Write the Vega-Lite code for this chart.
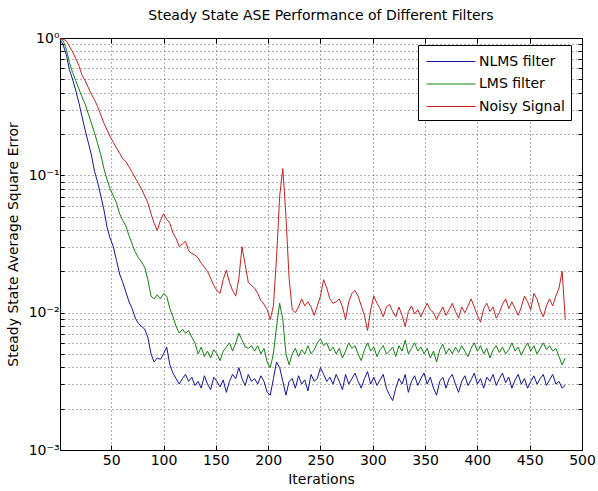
{
  "$schema": "https://vega.github.io/schema/vega-lite/v6.json",
  "width": 522,
  "height": 412,
  "autosize": "none",
  "padding": {"left": 60, "top": 38, "right": 16, "bottom": 41},
  "background": "white",
  "title": {"text": "Steady State ASE Performance of Different Filters", "fontSize": 14, "fontWeight": "normal", "font": "DejaVu Sans", "color": "#000", "anchor": "middle", "offset": 8},
  "config": {
    "view": {"stroke": "#000", "strokeWidth": 1},
    "font": "DejaVu Sans",
    "axis": {"labelFont": "DejaVu Sans", "titleFont": "DejaVu Sans", "labelColor": "#000", "titleColor": "#000", "labelFontSize": 14, "titleFontSize": 14, "titleFontWeight": "normal", "domainColor": "#000", "tickColor": "#000", "gridColor": "#222", "gridDash": [1, 3], "gridOpacity": 0.7, "gridWidth": 1}
  },
  "data": {"values": [
{"i":1,"n":0.98,"l":0.99,"s":0.99},{"i":4,"n":0.891,"l":0.955,"s":0.98},{"i":7,"n":0.759,"l":0.832,"s":0.955},{"i":10,"n":0.589,"l":0.661,"s":0.871},{"i":13,"n":0.501,"l":0.562,"s":0.794},{"i":16,"n":0.417,"l":0.49,"s":0.708},{"i":19,"n":0.339,"l":0.427,"s":0.631},{"i":22,"n":0.269,"l":0.372,"s":0.537},{"i":25,"n":0.214,"l":0.331,"s":0.49},{"i":28,"n":0.174,"l":0.282,"s":0.437},
{"i":31,"n":0.141,"l":0.24,"s":0.389},{"i":34,"n":0.107,"l":0.204,"s":0.355},{"i":37,"n":0.0891,"l":0.17,"s":0.316},{"i":40,"n":0.0708,"l":0.141,"s":0.275},{"i":43,"n":0.0562,"l":0.112,"s":0.24},{"i":46,"n":0.0417,"l":0.0933,"s":0.214},{"i":49,"n":0.0347,"l":0.0794,"s":0.191},{"i":52,"n":0.0302,"l":0.0708,"s":0.174},{"i":55,"n":0.024,"l":0.0631,"s":0.158},{"i":58,"n":0.0191,"l":0.0525,"s":0.145},
{"i":61,"n":0.0166,"l":0.0468,"s":0.132},{"i":64,"n":0.0141,"l":0.0427,"s":0.126},{"i":67,"n":0.012,"l":0.0363,"s":0.115},{"i":70,"n":0.0107,"l":0.0316,"s":0.105},{"i":73,"n":0.00912,"l":0.0275,"s":0.0955},{"i":76,"n":0.00832,"l":0.0251,"s":0.0871},{"i":79,"n":0.00794,"l":0.0234,"s":0.0794},{"i":82,"n":0.00759,"l":0.0214,"s":0.0708},{"i":85,"n":0.00661,"l":0.0174,"s":0.0631},{"i":88,"n":0.00501,"l":0.0132,"s":0.0525},
{"i":91,"n":0.00437,"l":0.0126,"s":0.0447},{"i":94,"n":0.00468,"l":0.0135,"s":0.0398},{"i":97,"n":0.00457,"l":0.0126,"s":0.0468},{"i":100,"n":0.00501,"l":0.0138,"s":0.0525},{"i":103,"n":0.00562,"l":0.0132,"s":0.0479},{"i":106,"n":0.00417,"l":0.0107,"s":0.0447},{"i":109,"n":0.00363,"l":0.00933,"s":0.038},{"i":112,"n":0.00331,"l":0.00794,"s":0.0347},{"i":115,"n":0.00302,"l":0.00708,"s":0.0302},{"i":118,"n":0.00331,"l":0.00759,"s":0.0316},
{"i":121,"n":0.00355,"l":0.00708,"s":0.0331},{"i":124,"n":0.00316,"l":0.00741,"s":0.0282},{"i":127,"n":0.00339,"l":0.00661,"s":0.0269},{"i":130,"n":0.00295,"l":0.00603,"s":0.0263},{"i":133,"n":0.00316,"l":0.00501,"s":0.0251},{"i":136,"n":0.00282,"l":0.00562,"s":0.0229},{"i":139,"n":0.00347,"l":0.00479,"s":0.0214},{"i":142,"n":0.00302,"l":0.00525,"s":0.02},{"i":145,"n":0.00275,"l":0.00468,"s":0.0178},{"i":148,"n":0.00339,"l":0.00537,"s":0.0158},
{"i":151,"n":0.00316,"l":0.00501,"s":0.0145},{"i":154,"n":0.00288,"l":0.00447,"s":0.0138},{"i":157,"n":0.00324,"l":0.00525,"s":0.0174},{"i":160,"n":0.00263,"l":0.00562,"s":0.0204},{"i":163,"n":0.00316,"l":0.00603,"s":0.0166},{"i":166,"n":0.00355,"l":0.00525,"s":0.0145},{"i":169,"n":0.00331,"l":0.00603,"s":0.0132},{"i":172,"n":0.00398,"l":0.00708,"s":0.0178},{"i":175,"n":0.00331,"l":0.00631,"s":0.0302},{"i":178,"n":0.00295,"l":0.00562,"s":0.0224},
{"i":181,"n":0.00355,"l":0.0055,"s":0.0166},{"i":184,"n":0.00316,"l":0.00575,"s":0.0158},{"i":187,"n":0.00331,"l":0.00525,"s":0.0151},{"i":190,"n":0.00302,"l":0.00575,"s":0.0138},{"i":193,"n":0.00347,"l":0.00501,"s":0.0123},{"i":196,"n":0.00316,"l":0.0055,"s":0.0115},{"i":199,"n":0.00263,"l":0.00437,"s":0.0105},{"i":202,"n":0.00251,"l":0.00398,"s":0.00891},{"i":205,"n":0.00331,"l":0.00501,"s":0.0112},{"i":208,"n":0.00437,"l":0.00794,"s":0.0251},
{"i":211,"n":0.00398,"l":0.0117,"s":0.0708},{"i":214,"n":0.00316,"l":0.00891,"s":0.112},{"i":217,"n":0.00251,"l":0.00501,"s":0.0501},{"i":220,"n":0.00316,"l":0.00417,"s":0.0178},{"i":223,"n":0.00331,"l":0.00501,"s":0.0105},{"i":226,"n":0.00282,"l":0.0055,"s":0.01},{"i":229,"n":0.00347,"l":0.00479,"s":0.011},{"i":232,"n":0.00302,"l":0.00537,"s":0.0126},{"i":235,"n":0.00324,"l":0.00501,"s":0.0112},{"i":238,"n":0.00269,"l":0.00575,"s":0.012},
{"i":241,"n":0.00355,"l":0.00501,"s":0.011},{"i":244,"n":0.00316,"l":0.00537,"s":0.00955},{"i":247,"n":0.00331,"l":0.00603,"s":0.0112},{"i":250,"n":0.00398,"l":0.00646,"s":0.0132},{"i":253,"n":0.00355,"l":0.00575,"s":0.0174},{"i":256,"n":0.00316,"l":0.00603,"s":0.0151},{"i":259,"n":0.00339,"l":0.00525,"s":0.0126},{"i":262,"n":0.00302,"l":0.00562,"s":0.0117},{"i":265,"n":0.00355,"l":0.00501,"s":0.012},{"i":268,"n":0.00316,"l":0.0055,"s":0.0126},
{"i":271,"n":0.00275,"l":0.00468,"s":0.011},{"i":274,"n":0.00355,"l":0.00525,"s":0.00891},{"i":277,"n":0.00302,"l":0.00603,"s":0.012},{"i":280,"n":0.00331,"l":0.0055,"s":0.0138},{"i":283,"n":0.00363,"l":0.00575,"s":0.0145},{"i":286,"n":0.00316,"l":0.00501,"s":0.0132},{"i":289,"n":0.00282,"l":0.00447,"s":0.0112},{"i":292,"n":0.00331,"l":0.00537,"s":0.00955},{"i":295,"n":0.00372,"l":0.00603,"s":0.00741},{"i":298,"n":0.00302,"l":0.00525,"s":0.0105},
{"i":301,"n":0.00339,"l":0.00562,"s":0.0132},{"i":304,"n":0.00295,"l":0.00479,"s":0.0117},{"i":307,"n":0.00324,"l":0.00537,"s":0.0107},{"i":310,"n":0.00355,"l":0.00575,"s":0.00933},{"i":313,"n":0.00282,"l":0.00501,"s":0.011},{"i":316,"n":0.00251,"l":0.00525,"s":0.0115},{"i":319,"n":0.00229,"l":0.00562,"s":0.0102},{"i":322,"n":0.00282,"l":0.00479,"s":0.00933},{"i":325,"n":0.00331,"l":0.00575,"s":0.011},{"i":328,"n":0.00302,"l":0.00525,"s":0.00955},
{"i":331,"n":0.00355,"l":0.00631,"s":0.00794},{"i":334,"n":0.00263,"l":0.00501,"s":0.0102},{"i":337,"n":0.00316,"l":0.0055,"s":0.0112},{"i":340,"n":0.00347,"l":0.00603,"s":0.00977},{"i":343,"n":0.00295,"l":0.00525,"s":0.0105},{"i":346,"n":0.00331,"l":0.00562,"s":0.00933},{"i":349,"n":0.00363,"l":0.00501,"s":0.0105},{"i":352,"n":0.00302,"l":0.0055,"s":0.0117},{"i":355,"n":0.00339,"l":0.00468,"s":0.0105},{"i":358,"n":0.00282,"l":0.00525,"s":0.01},
{"i":361,"n":0.00251,"l":0.00437,"s":0.00891},{"i":364,"n":0.00316,"l":0.00537,"s":0.01},{"i":367,"n":0.00339,"l":0.00589,"s":0.011},{"i":370,"n":0.00282,"l":0.00501,"s":0.00955},{"i":373,"n":0.00331,"l":0.0055,"s":0.0105},{"i":376,"n":0.00355,"l":0.00501,"s":0.0117},{"i":379,"n":0.00302,"l":0.00562,"s":0.0102},{"i":382,"n":0.00263,"l":0.00513,"s":0.00912},{"i":385,"n":0.00316,"l":0.00575,"s":0.011},{"i":388,"n":0.00347,"l":0.00525,"s":0.01},
{"i":391,"n":0.00295,"l":0.00479,"s":0.0112},{"i":394,"n":0.00324,"l":0.0055,"s":0.0126},{"i":397,"n":0.00363,"l":0.00603,"s":0.011},{"i":400,"n":0.00302,"l":0.00525,"s":0.00955},{"i":403,"n":0.00331,"l":0.00575,"s":0.00851},{"i":406,"n":0.00282,"l":0.00501,"s":0.0107},{"i":409,"n":0.00339,"l":0.0055,"s":0.0117},{"i":412,"n":0.00316,"l":0.00468,"s":0.0102},{"i":415,"n":0.00355,"l":0.00537,"s":0.011},{"i":418,"n":0.00295,"l":0.00575,"s":0.00912},
{"i":421,"n":0.00331,"l":0.00513,"s":0.01},{"i":424,"n":0.00363,"l":0.00562,"s":0.0115},{"i":427,"n":0.00309,"l":0.00501,"s":0.0126},{"i":430,"n":0.00339,"l":0.00537,"s":0.0107},{"i":433,"n":0.00282,"l":0.00603,"s":0.012},{"i":436,"n":0.00324,"l":0.00525,"s":0.0107},{"i":439,"n":0.00355,"l":0.00562,"s":0.00955},{"i":442,"n":0.00302,"l":0.0049,"s":0.011},{"i":445,"n":0.00331,"l":0.0055,"s":0.0132},{"i":448,"n":0.00282,"l":0.00603,"s":0.012},
{"i":451,"n":0.00316,"l":0.00525,"s":0.0105},{"i":454,"n":0.00347,"l":0.00575,"s":0.0138},{"i":457,"n":0.00302,"l":0.00501,"s":0.0126},{"i":460,"n":0.00331,"l":0.0055,"s":0.0105},{"i":463,"n":0.00355,"l":0.00603,"s":0.00933},{"i":466,"n":0.00295,"l":0.00537,"s":0.0112},{"i":469,"n":0.00324,"l":0.00575,"s":0.0126},{"i":472,"n":0.00355,"l":0.00525,"s":0.0112},{"i":475,"n":0.00302,"l":0.0055,"s":0.0132},{"i":478,"n":0.00316,"l":0.00479,"s":0.0151},
{"i":481,"n":0.00282,"l":0.00417,"s":0.02},{"i":484,"n":0.00295,"l":0.00468,"s":0.00891}
  ]},
  "transform": [{"fold": ["n", "l", "s"], "as": ["series", "v"]}],
  "layer": [
    {
      "mark": {"type": "line", "strokeWidth": 1, "interpolate": "linear"},
      "encoding": {
        "x": {"field": "i", "type": "quantitative", "scale": {"domain": [1, 500], "nice": false, "zero": false},
          "axis": {"title": "Iterations", "values": [50, 100, 150, 200, 250, 300, 350, 400, 450, 500], "grid": true, "tickSize": -5, "labelPadding": 8, "titlePadding": 5, "labelFlush": false}},
        "y": {"field": "v", "type": "quantitative", "scale": {"type": "log", "domain": [0.001, 1], "nice": false},
          "axis": {"title": "Steady State Average Square Error", "titlePadding": 8,
            "values": [0.001, 0.002, 0.003, 0.004, 0.005, 0.006, 0.007, 0.008, 0.009, 0.01, 0.02, 0.03, 0.04, 0.05, 0.06, 0.07, 0.08, 0.09, 0.1, 0.2, 0.3, 0.4, 0.5, 0.6, 0.7, 0.8, 0.9, 1],
            "labelExpr": "datum.value == 1 ? '10⁰' : datum.value == 0.1 ? '10⁻¹' : datum.value == 0.01 ? '10⁻²' : datum.value == 0.001 ? '10⁻³' : ''",
            "labelOverlap": false, "labelFlush": false, "tickSize": -4, "labelPadding": 5, "grid": true}},
        "color": {"field": "series", "type": "nominal", "sort": null,
          "scale": {"domain": ["n", "l", "s"], "range": ["#1414a0", "#128212", "#cc2020"]},
          "legend": {"title": null, "orient": "none", "legendX": 358, "legendY": 7, "labelExpr": "datum.value == 'n' ? 'NLMS filter' : datum.value == 'l' ? 'LMS filter' : 'Noisy Signal'",
            "symbolType": "M-0.8,0H4.1", "symbolSize": 400, "symbolStrokeWidth": 1, "labelFontSize": 14, "labelFont": "DejaVu Sans", "labelColor": "#000",
            "strokeColor": "#000", "fillColor": "#fff", "padding": 6, "rowPadding": 4.5, "labelOffset": 34}}
      }
    },
    {
      "mark": {"type": "point", "opacity": 0},
      "encoding": {
        "x": {"field": "i", "type": "quantitative", "axis": {"orient": "top", "title": null, "labels": false, "grid": false, "domain": false, "tickSize": -5, "values": [50, 100, 150, 200, 250, 300, 350, 400, 450, 500]}},
        "y": {"field": "v", "type": "quantitative", "axis": {"orient": "right", "title": null, "labels": false, "grid": false, "domain": false, "tickSize": -4,
          "values": [0.001, 0.002, 0.003, 0.004, 0.005, 0.006, 0.007, 0.008, 0.009, 0.01, 0.02, 0.03, 0.04, 0.05, 0.06, 0.07, 0.08, 0.09, 0.1, 0.2, 0.3, 0.4, 0.5, 0.6, 0.7, 0.8, 0.9, 1]}}
      }
    }
  ],
  "resolve": {"axis": {"x": "independent", "y": "independent"}}
}
